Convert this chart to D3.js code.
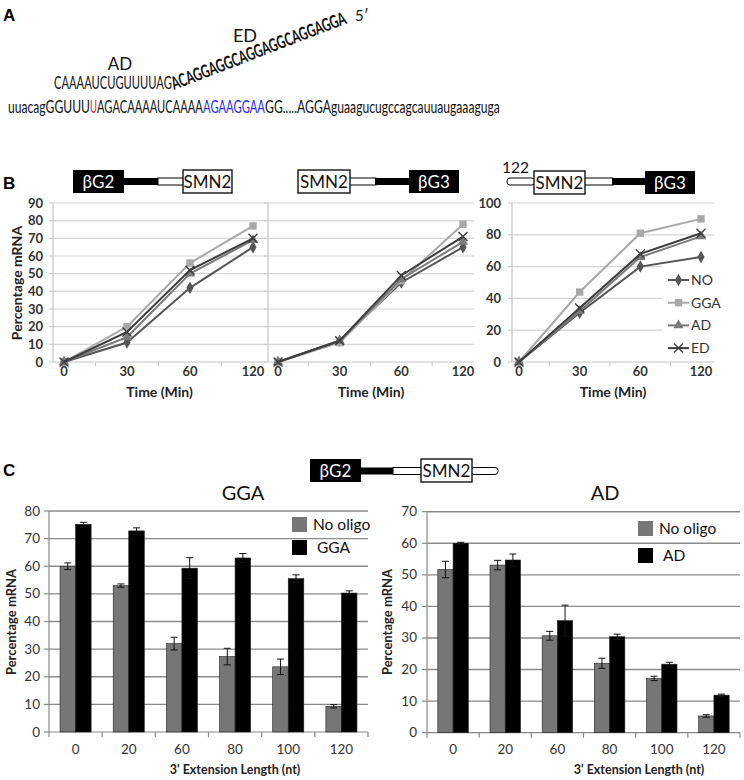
<!DOCTYPE html>
<html>
<head>
<meta charset="utf-8">
<script src="https://cdn.jsdelivr.net/npm/d3@7"></script>
<style>
  html, body { margin: 0; padding: 0; background: #fff; }
  text { font-family: Lato, "Open Sans", sans-serif; }
</style>
</head>
<body>
<script>
// ---------------- DATA ----------------
const timeCats = ["0", "30", "60", "120"];
const seriesNames = ["NO", "GGA", "AD", "ED"];

// Panel B, chart 1 (βG2 – SMN2)
const b1_NO  = [0, 11, 42, 65];
const b1_GGA = [0, 20, 56, 77];
const b1_AD  = [0, 14, 50, 69];
const b1_ED  = [0, 17, 52, 70];
// Panel B, chart 2 (SMN2 – βG3)
const b2_NO  = [0, 12, 45, 65];
const b2_GGA = [0, 11, 46, 78];
const b2_AD  = [0, 12, 47, 68];
const b2_ED  = [0, 12, 49, 71];
// Panel B, chart 3 (122 SMN2 – βG3)
const b3_NO  = [0, 31, 60, 66];
const b3_GGA = [0, 44, 81, 90];
const b3_AD  = [0, 32, 66, 79];
const b3_ED  = [0, 34, 68, 81];

const yTicksB12 = [0, 10, 20, 30, 40, 50, 60, 70, 80, 90];
const yTicksB3 = [0, 20, 40, 60, 80, 100];

// Panel C
const extCats = ["0", "20", "60", "80", "100", "120"];
const ggaNoOligo    = [60, 53, 32, 27.3, 23.6, 9.3];
const ggaNoOligoErr = [1.2, 0.6, 2.3, 3.0, 2.8, 0.6];
const ggaOligo      = [75.2, 72.8, 59.3, 63, 55.5, 50.3];
const ggaOligoErr   = [0.7, 1.1, 3.8, 1.6, 1.4, 0.8];
const adNoOligo     = [51.7, 53.1, 30.7, 22, 17.2, 5.3];
const adNoOligoErr  = [2.6, 1.5, 1.4, 1.6, 0.7, 0.4];
const adOligo       = [60, 54.7, 35.5, 30.4, 21.7, 11.9];
const adOligoErr    = [0.3, 1.9, 4.9, 0.8, 0.6, 0.3];
const yTicksGGA = [0, 10, 20, 30, 40, 50, 60, 70, 80];
const yTicksAD  = [0, 10, 20, 30, 40, 50, 60, 70];

// ---------------- SVG ----------------
const svg = d3.select("body").append("svg")
  .attr("width", 744).attr("height", 780);

// text squeezed horizontally to a given width (Calibri-like narrow look)
function fitText(x, y, width, str, size, opts = {}) {
  const t = svg.append("text").attr("x", 0).attr("y", 0)
    .attr("font-size", size).attr("fill", opts.fill || "#111")
    .attr("font-weight", opts.weight || "normal").text(str);
  const n = t.node().getComputedTextLength();
  const k = width / n;
  t.attr("transform", `translate(${x},${y})${opts.rotate ? ` rotate(${opts.rotate})` : ""} scale(${k},1)`);
  return t;
}

// ---------------- Panel A ----------------
svg.append("text").attr("x", 3).attr("y", 21)
  .style("font-family", "Liberation Sans, Arial, sans-serif")
  .attr("font-weight", "bold").attr("font-size", 17).text("A");

svg.append("text").attr("x", 245).attr("y", 42).attr("text-anchor", "middle")
  .attr("font-size", 18).attr("fill", "#111").text("ED");
svg.append("text").attr("x", 355).attr("y", 21)
  .attr("font-size", 15).attr("fill", "#111").text("5\u2032");
svg.append("text").attr("x", 120).attr("y", 70).attr("text-anchor", "middle")
  .attr("font-size", 17).attr("fill", "#111").text("AD");
fitText(54, 89, 118, "CAAAAUCUGUUUUAG", 16.5);
fitText(174, 90, 186, "ACAGGAGGCAGGAGGCAGGAGGA", 18, {weight: "bold", rotate: -21});

const seqParts = [
  {t: "uuacagGGUUU", c: "#111", x: 8, w: 82},
  {t: "U", c: "#e0201b", x: 90, w: 7},
  {t: "AGACAAAAUCAAAA", c: "#111", x: 97, w: 106},
  {t: "AGAAGGAA", c: "#2a2ae8", x: 203, w: 62},
  {t: "GG.....AGGAguaagucugccagcauuaugaaaguga", c: "#111", x: 265, w: 235}
];
seqParts.forEach(p => fitText(p.x, 113, p.w, p.t, 16.5, {fill: p.c}));

// ---------------- Diagram helper ----------------
function blackBox(x, y, w, h, label) {
  svg.append("rect").attr("x", x).attr("y", y).attr("width", w).attr("height", h).attr("fill", "#000");
  svg.append("text").attr("x", x + w / 2).attr("y", y + h / 2 + 6).attr("text-anchor", "middle")
    .attr("fill", "#fff").attr("font-size", 17).text(label);
}
function whiteBox(x, y, w, h, label) {
  svg.append("rect").attr("x", x).attr("y", y).attr("width", w).attr("height", h)
    .attr("fill", "#fff").attr("stroke", "#000").attr("stroke-width", 1.3);
  svg.append("text").attr("x", x + w / 2).attr("y", y + h / 2 + 6).attr("text-anchor", "middle")
    .attr("fill", "#111").attr("font-size", 17).text(label);
}
function blackBar(x1, x2, yc) {
  svg.append("rect").attr("x", x1).attr("y", yc - 3.5).attr("width", x2 - x1).attr("height", 7).attr("fill", "#000");
}
function whiteBar(x1, x2, yc, rounded) {
  svg.append("rect").attr("x", x1).attr("y", yc - 3.5).attr("width", x2 - x1).attr("height", 7)
    .attr("rx", rounded ? 3 : 0)
    .attr("fill", "#fff").attr("stroke", "#000").attr("stroke-width", 1);
}

// B diagrams
blackBar(124, 159, 181.5); whiteBar(158, 184, 181.5);
blackBox(73, 170, 51, 23, "\u03B2G2"); whiteBox(183, 170, 49, 23, "SMN2");

whiteBar(349, 376, 181.5); blackBar(375, 410, 181.5);
whiteBox(298, 170, 52, 23, "SMN2"); blackBox(409, 170, 50, 23, "\u03B2G3");

whiteBar(507, 535, 181.5, true); whiteBar(584, 613, 181.5); blackBar(612, 646, 181.5);
whiteBox(534, 171, 51, 23, "SMN2"); blackBox(645, 171, 50, 23, "\u03B2G3");
svg.append("text").attr("x", 502).attr("y", 173).attr("font-size", 15.5).attr("fill", "#111").text("122");

// C diagram
blackBar(360, 394, 471); whiteBar(393, 422, 471); whiteBar(471, 498, 471, true);
blackBox(310, 459, 51, 23, "\u03B2G2"); whiteBox(421, 459, 51, 23, "SMN2");

// ---------------- Panel B ----------------
svg.append("text").attr("x", 3).attr("y", 189)
  .style("font-family", "Liberation Sans, Arial, sans-serif")
  .attr("font-weight", "bold").attr("font-size", 17).text("B");

const seriesStyle = {
  NO:  {color: "#555555", marker: "diamond"},
  GGA: {color: "#a8a8a8", marker: "square"},
  AD:  {color: "#7a7a7a", marker: "triangle"},
  ED:  {color: "#3c3c3c", marker: "x"}
};

function drawMarker(g, type, x, y, color) {
  if (type === "x") {
    g.append("path").attr("d", `M${x-4.5},${y-4.5}L${x+4.5},${y+4.5}M${x-4.5},${y+4.5}L${x+4.5},${y-4.5}`)
      .attr("stroke", color).attr("stroke-width", 1.4).attr("fill", "none");
  } else {
    const sym = type === "diamond" ? d3.symbolDiamond : type === "square" ? d3.symbolSquare : d3.symbolTriangle;
    const size = type === "diamond" ? 45 : type === "square" ? 55 : 45;
    g.append("path").attr("d", d3.symbol().type(sym).size(size)())
      .attr("transform", `translate(${x},${y})`).attr("fill", color);
  }
}

function lineChart(cfg) {
  const g = svg.append("g");
  const y = d3.scaleLinear().domain([0, cfg.yMax]).range([362, 203]);
  const x = d3.scalePoint().domain(timeCats).range([cfg.first, cfg.last]);
  cfg.yTicks.forEach(t => {
    if (t === 0) return;
    let x2 = cfg.right;
    if (cfg.legend && t > 0 && t < 70) x2 = 662;
    g.append("line").attr("x1", cfg.axis).attr("x2", x2)
      .attr("y1", y(t)).attr("y2", y(t)).attr("stroke", "#d4d4d4").attr("stroke-width", 1.2);
  });
  g.append("line").attr("x1", cfg.axis).attr("x2", cfg.axis).attr("y1", y(cfg.yMax)).attr("y2", y(0))
    .attr("stroke", "#c4c4c4").attr("stroke-width", 1.2);
  g.append("line").attr("x1", cfg.axis).attr("x2", cfg.right).attr("y1", y(0)).attr("y2", y(0))
    .attr("stroke", "#c4c4c4").attr("stroke-width", 1.2);
  cfg.yTicks.forEach(t => {
    g.append("line").attr("x1", cfg.axis - 4).attr("x2", cfg.axis).attr("y1", y(t)).attr("y2", y(t))
      .attr("stroke", "#c4c4c4");
  });
  const step = x.step();
  timeCats.slice(0, -1).forEach(c => {
    const tx = x(c) + step / 2;
    g.append("line").attr("x1", tx).attr("x2", tx).attr("y1", y(0)).attr("y2", y(0) + 4).attr("stroke", "#c4c4c4");
  });
  if (cfg.tickLabelX) {
    cfg.yTicks.forEach(t => {
      g.append("text").attr("x", cfg.tickLabelX).attr("y", y(t) + 4.5).attr("text-anchor", "end")
        .attr("font-size", 13).attr("font-weight", "bold").attr("fill", "#333").text(t);
    });
  }
  timeCats.forEach(c => {
    g.append("text").attr("x", x(c)).attr("y", 376).attr("text-anchor", "middle")
      .attr("font-size", 13).attr("fill", "#333").attr("font-weight", "bold").text(c);
  });
  g.append("text").attr("x", (cfg.axis + cfg.right) / 2).attr("y", 397).attr("text-anchor", "middle")
    .attr("font-size", 14).attr("font-weight", "bold").attr("fill", "#222").text("Time (Min)");
  const line = d3.line().x((d, i) => x(timeCats[i])).y(d => y(d));
  seriesNames.forEach(s => {
    const st = seriesStyle[s];
    g.append("path").attr("d", line(cfg.data[s])).attr("fill", "none")
      .attr("stroke", st.color).attr("stroke-width", 2);
    cfg.data[s].forEach((v, i) => drawMarker(g, st.marker, x(timeCats[i]), y(v), st.color));
  });
  if (cfg.legend) {
    const lg = svg.append("g");
    seriesNames.forEach((s, i) => {
      const ly = 280 + i * 22.7;
      const st = seriesStyle[s];
      lg.append("line").attr("x1", 668).attr("x2", 689).attr("y1", ly).attr("y2", ly)
        .attr("stroke", st.color).attr("stroke-width", 2);
      drawMarker(lg, st.marker, 678.5, ly, st.color);
      lg.append("text").attr("x", 691).attr("y", ly + 5).attr("font-size", 14).attr("fill", "#333").text(s);
    });
  }
}

lineChart({data: {NO: b1_NO, GGA: b1_GGA, AD: b1_AD, ED: b1_ED}, yMax: 90, yTicks: yTicksB12,
  axis: 53, first: 64, last: 253, right: 266, tickLabelX: 43});
lineChart({data: {NO: b2_NO, GGA: b2_GGA, AD: b2_AD, ED: b2_ED}, yMax: 90, yTicks: yTicksB12,
  axis: 268, first: 278, last: 463, right: 474, tickLabelX: null});
lineChart({data: {NO: b3_NO, GGA: b3_GGA, AD: b3_AD, ED: b3_ED}, yMax: 100, yTicks: yTicksB3,
  axis: 512, first: 519, last: 701, right: 714, tickLabelX: 501, legend: true});

svg.append("text").attr("transform", "translate(22,283) rotate(-90)").attr("text-anchor", "middle")
  .attr("font-size", 14).attr("font-weight", "bold").attr("fill", "#222").text("Percentage mRNA");

// ---------------- Panel C ----------------
svg.append("text").attr("x", 3).attr("y", 476)
  .style("font-family", "Liberation Sans, Arial, sans-serif")
  .attr("font-weight", "bold").attr("font-size", 17).text("C");

function barChart(cfg) {
  const g = svg.append("g");
  const y = d3.scaleLinear().domain([0, cfg.yMax]).range([cfg.y0, cfg.yTop]);
  const x0 = d3.scaleBand().domain(extCats).range([cfg.left, cfg.right]);
  const x1 = d3.scaleBand().domain(["no", "oligo"]).range([0, x0.bandwidth()]).paddingOuter(0.71);
  cfg.yTicks.forEach(t => {
    if (t === 0) return;
    g.append("line").attr("x1", cfg.left).attr("x2", cfg.right).attr("y1", y(t)).attr("y2", y(t))
      .attr("stroke", "#8a8a8a").attr("stroke-width", 1.4);
  });
  g.append("line").attr("x1", cfg.left).attr("x2", cfg.left).attr("y1", y(cfg.yMax)).attr("y2", y(0))
    .attr("stroke", "#888").attr("stroke-width", 1.2);
  g.append("line").attr("x1", cfg.left).attr("x2", cfg.right).attr("y1", y(0)).attr("y2", y(0))
    .attr("stroke", "#888").attr("stroke-width", 1.2);
  cfg.yTicks.forEach(t => {
    g.append("line").attr("x1", cfg.left - 5).attr("x2", cfg.left).attr("y1", y(t)).attr("y2", y(t))
      .attr("stroke", "#888").attr("stroke-width", 1.2);
    g.append("text").attr("x", cfg.tickLabelX).attr("y", y(t) + 4.5).attr("text-anchor", "end")
      .attr("font-size", 13.5).attr("fill", "#333").text(t);
  });
  extCats.forEach(c => {
    g.append("line").attr("x1", x0(c)).attr("x2", x0(c)).attr("y1", y(0)).attr("y2", y(0) + 5)
      .attr("stroke", "#888").attr("stroke-width", 1.2);
  });
  g.append("line").attr("x1", cfg.right).attr("x2", cfg.right).attr("y1", y(0)).attr("y2", y(0) + 5)
    .attr("stroke", "#888").attr("stroke-width", 1.2);
  extCats.forEach(c => {
    g.append("text").attr("x", x0(c) + x0.bandwidth() / 2).attr("y", 754).attr("text-anchor", "middle")
      .attr("font-size", 13.5).attr("fill", "#333").text(c);
  });
  const groups = [
    {key: "no", vals: cfg.no, errs: cfg.noErr, fill: "#767676"},
    {key: "oligo", vals: cfg.oligo, errs: cfg.oligoErr, fill: "#000"}
  ];
  groups.forEach(gr => {
    gr.vals.forEach((v, i) => {
      const bx = x0(extCats[i]) + x1(gr.key);
      g.append("rect").attr("x", bx).attr("y", y(v)).attr("width", x1.bandwidth()).attr("height", y(0) - y(v))
        .attr("fill", gr.fill).attr("stroke", "#222").attr("stroke-width", 0.6);
      const cx = bx + x1.bandwidth() / 2, e = gr.errs[i];
      g.append("path")
        .attr("d", `M${cx},${y(v - e)}V${y(v + e)}M${cx - 3.5},${y(v + e)}H${cx + 3.5}M${cx - 3.5},${y(v - e)}H${cx + 3.5}`)
        .attr("stroke", "#111").attr("stroke-width", 1).attr("fill", "none");
    });
  });
  g.append("text").attr("x", cfg.titleX).attr("y", 500).attr("text-anchor", "middle")
    .attr("font-size", 20).attr("fill", "#111").text(cfg.title);
  g.append("text").attr("x", cfg.xTitleX).attr("y", 774).attr("text-anchor", "middle")
    .attr("font-size", 12.5).attr("font-weight", "bold").attr("fill", "#222").text("3' Extension Length (nt)");
  g.append("text").attr("transform", `translate(${cfg.yTitleX},622) rotate(-90)`).attr("text-anchor", "middle")
    .attr("font-size", 13).attr("font-weight", "bold").attr("fill", "#222").text("Percentage mRNA");
  const L = cfg.legend;
  g.append("rect").attr("x", L.x).attr("y", L.y1).attr("width", 15).attr("height", 15).attr("fill", "#767676");
  g.append("text").attr("x", L.x + 21).attr("y", L.y1 + 13).attr("font-size", 15.5).attr("fill", "#111").text("No oligo");
  g.append("rect").attr("x", L.x).attr("y", L.y2).attr("width", 15).attr("height", 15).attr("fill", "#000");
  g.append("text").attr("x", L.x + 25).attr("y", L.y2 + 13).attr("font-size", 15.5).attr("fill", "#111").text(cfg.title);
}

barChart({title: "GGA", yMax: 80, yTicks: yTicksGGA, y0: 732, yTop: 511, left: 49, right: 368,
  tickLabelX: 40, no: ggaNoOligo, noErr: ggaNoOligoErr, oligo: ggaOligo, oligoErr: ggaOligoErr,
  titleX: 243, xTitleX: 235, yTitleX: 16, legend: {x: 292, y1: 517, y2: 540}});
barChart({title: "AD", yMax: 70, yTicks: yTicksAD, y0: 732.7, yTop: 511.7, left: 427, right: 740,
  tickLabelX: 417, no: adNoOligo, noErr: adNoOligoErr, oligo: adOligo, oligoErr: adOligoErr,
  titleX: 605, xTitleX: 639, yTitleX: 392, legend: {x: 638, y1: 521, y2: 548}});
</script>
</body>
</html>
